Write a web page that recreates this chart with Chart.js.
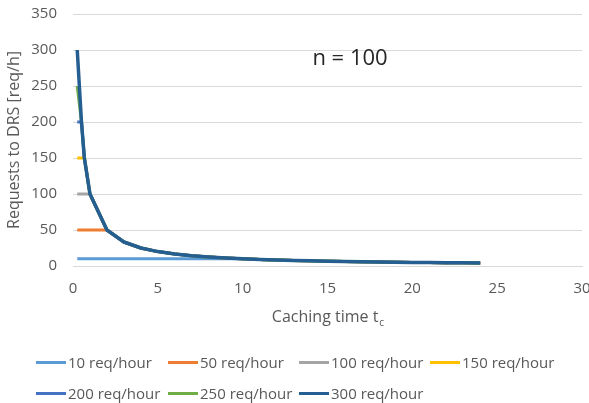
<!DOCTYPE html>
<html>
<head>
<meta charset="utf-8">
<script src="https://cdn.jsdelivr.net/npm/chart.js@4/dist/chart.umd.min.js"></script>
<style>
  body { margin: 0; background: #fff; }
  #wrap { position: relative; width: 589px; height: 403px; }
  #legend { position: absolute; left: 0; top: 0; width: 589px; height: 403px; pointer-events: none;
            font-family: 'Open Sans', sans-serif; font-size: 15px; color: #595959; }
  .item { position: absolute; white-space: nowrap; line-height: 20px; }
  .sample { position: absolute; left: -32px; top: 9px; width: 30px; height: 3px; }
</style>
</head>
<body>
<div id="wrap">
  <canvas id="chart" width="589" height="403"></canvas>
  <div id="legend"></div>
</div>
<script>
// caching time t_c (x) shared by every series
var cachingTimes = [0.25, 0.5, 0.67, 1, 2, 3, 4, 5, 6, 7, 8, 9, 10, 11, 12, 13, 14, 15, 16, 17, 18, 19, 20, 21, 22, 23, 24];

var seriesNames = ['10 req/hour', '50 req/hour', '100 req/hour', '150 req/hour', '200 req/hour', '250 req/hour', '300 req/hour'];
var seriesColors = ['#5B9BD5', '#ED7D31', '#A5A5A5', '#FFC000', '#4472C4', '#70AD47', '#255E91'];

var req10  = [10, 10, 10, 10, 10, 10, 10, 10, 10, 10, 10, 10, 10, 9.09, 8.33, 7.69, 7.14, 6.67, 6.25, 5.88, 5.56, 5.26, 5, 4.76, 4.55, 4.35, 4.17];
var req50  = [50, 50, 50, 50, 50, 33.3, 25, 20, 16.7, 14.3, 12.5, 11.1, 10, 9.09, 8.33, 7.69, 7.14, 6.67, 6.25, 5.88, 5.56, 5.26, 5, 4.76, 4.55, 4.35, 4.17];
var req100 = [100, 100, 100, 100, 50, 33.3, 25, 20, 16.7, 14.3, 12.5, 11.1, 10, 9.09, 8.33, 7.69, 7.14, 6.67, 6.25, 5.88, 5.56, 5.26, 5, 4.76, 4.55, 4.35, 4.17];
var req150 = [150, 150, 150, 100, 50, 33.3, 25, 20, 16.7, 14.3, 12.5, 11.1, 10, 9.09, 8.33, 7.69, 7.14, 6.67, 6.25, 5.88, 5.56, 5.26, 5, 4.76, 4.55, 4.35, 4.17];
var req200 = [200, 200, 150, 100, 50, 33.3, 25, 20, 16.7, 14.3, 12.5, 11.1, 10, 9.09, 8.33, 7.69, 7.14, 6.67, 6.25, 5.88, 5.56, 5.26, 5, 4.76, 4.55, 4.35, 4.17];
var req250 = [250, 200, 150, 100, 50, 33.3, 25, 20, 16.7, 14.3, 12.5, 11.1, 10, 9.09, 8.33, 7.69, 7.14, 6.67, 6.25, 5.88, 5.56, 5.26, 5, 4.76, 4.55, 4.35, 4.17];
var req300 = [300, 200, 150, 100, 50, 33.3, 25, 20, 16.7, 14.3, 12.5, 11.1, 10, 9.09, 8.33, 7.69, 7.14, 6.67, 6.25, 5.88, 5.56, 5.26, 5, 4.76, 4.55, 4.35, 4.17];

var allSeries = [req10, req50, req100, req150, req200, req250, req300];

var xTicksMax = 30, xStep = 5;
var yTicksMax = 350, yStep = 50;

Chart.defaults.font.family = "'Open Sans', sans-serif";
Chart.defaults.color = '#595959';

var datasets = [];
for (var i = 0; i < allSeries.length; i++) {
  var pts = [];
  for (var j = 0; j < cachingTimes.length; j++) {
    pts.push({ x: cachingTimes[j], y: allSeries[i][j] });
  }
  datasets.push({
    label: seriesNames[i],
    data: pts,
    borderColor: seriesColors[i],
    backgroundColor: seriesColors[i],
    borderWidth: i == 6 ? 3.5 : 3,
    pointRadius: 0,
    tension: 0,
    borderJoinStyle: 'round',
    order: allSeries.length - i   // later series drawn on top, like Excel
  });
}

// "n = 100" note and the subscript in the x title
var extras = {
  id: 'extras',
  afterDraw: function(chart) {
    var ctx = chart.ctx;
    var xs = chart.scales.x;
    ctx.save();
    ctx.fillStyle = '#262626';
    ctx.font = "22px 'Open Sans', sans-serif";
    ctx.textAlign = 'center';
    ctx.textBaseline = 'middle';
    ctx.fillText('n = 100', 350, 59);

    ctx.fillStyle = '#595959';
    ctx.font = "16px 'Open Sans', sans-serif";
    var main = 'Caching time t';
    var wMain = ctx.measureText(main).width;
    ctx.font = "10px 'Open Sans', sans-serif";
    var wSub = ctx.measureText('c').width;
    var cx = (xs.left + xs.right) / 2;
    var start = cx - (wMain + wSub) / 2;
    ctx.textAlign = 'left';
    ctx.font = "16px 'Open Sans', sans-serif";
    ctx.fillText(main, start, 317);
    ctx.font = "10px 'Open Sans', sans-serif";
    ctx.fillText('c', start + wMain + 1, 323);
    ctx.restore();
  }
};

var chart = new Chart(document.getElementById('chart'), {
  type: 'line',
  data: { datasets: datasets },
  options: {
    responsive: false,
    animation: false,
    layout: { padding: { left: 0, top: 14, right: 7, bottom: 73 } },
    plugins: { legend: { display: false }, tooltip: { enabled: false } },
    scales: {
      x: {
        type: 'linear', min: 0, max: xTicksMax,
        ticks: { stepSize: xStep, padding: 14, font: { size: 15 }, color: '#595959' },
        grid: { display: false, drawTicks: false },
        border: { display: true, color: '#D9D9D9' },
        title: { display: false },
        afterFit: function(s) { s.paddingLeft = 0; s.paddingRight = 0; s.height = 64; }
      },
      y: {
        min: 0, max: yTicksMax,
        ticks: { stepSize: yStep, padding: 16, font: { size: 15 }, color: '#595959' },
        grid: { color: '#D9D9D9', lineWidth: 1, drawTicks: false },
        border: { display: false },
        title: { display: true, text: 'Requests to DRS [req/h]', font: { size: 16 }, color: '#595959', padding: 5 },
        afterFit: function(s) { s.width = 73; s.paddingTop = 0; s.paddingBottom = 0; }
      }
    }
  },
  plugins: [extras]
});

// legend laid out in Excel's column grid
var textLeft = [68, 200, 331, 462];
var rowTop = [352, 383];
var legend = document.getElementById('legend');
chart.data.datasets.forEach(function(ds, k) {
  var item = document.createElement('div');
  item.className = 'item';
  item.style.left = textLeft[k % 4] + 'px';
  item.style.top = rowTop[Math.floor(k / 4)] + 'px';
  var s = document.createElement('span');
  s.className = 'sample';
  s.style.background = ds.borderColor;
  item.appendChild(s);
  item.appendChild(document.createTextNode(ds.label));
  legend.appendChild(item);
});
</script>
</body>
</html>
